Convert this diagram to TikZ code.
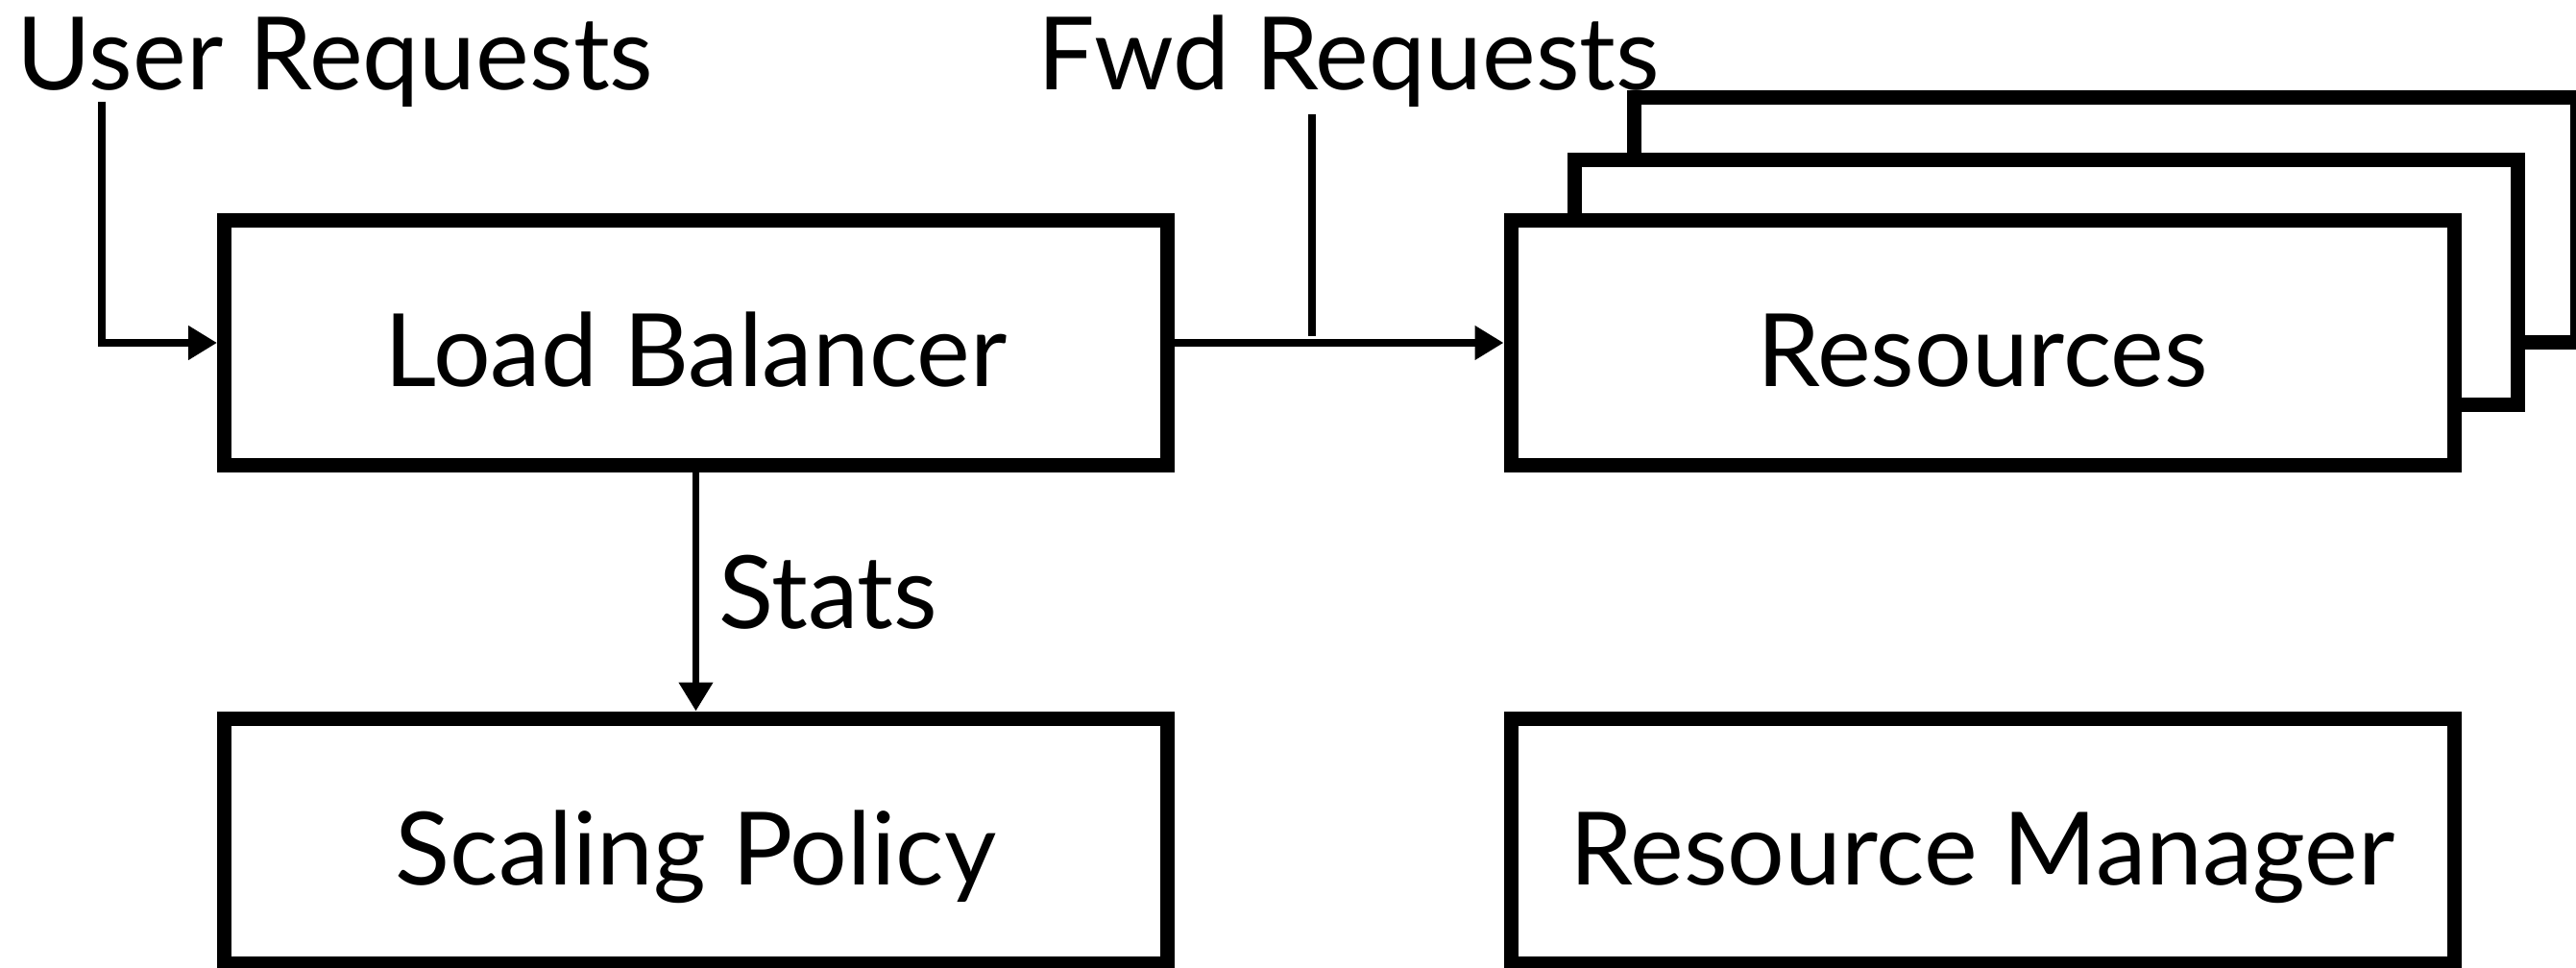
\documentclass[tikz,border=0pt]{standalone}
\usepackage{fontspec}
\setmainfont{Lato}
\usetikzlibrary{arrows.meta,positioning,calc}

\begin{document}
\begin{tikzpicture}[>={Triangle[length=3mm,width=3.4mm]},
block/.style={draw=black,fill=white,line width=1.5mm,minimum width=9.82cm,minimum height=2.55cm,font=\fontsize{30}{36}\selectfont,text height=26pt,text depth=0pt,inner sep=0pt},
flow/.style={->,line width=0.75mm},
leader/.style={line width=0.75mm},
lab/.style={font=\fontsize{30}{36}\selectfont,inner sep=0pt}]
\useasboundingbox (0,0) rectangle (26.82,10.07);
\node[lab,anchor=base west] (usrlab) at (0.17,9.13) {User Requests};
\node[lab,anchor=base west] (fwdlab) at (10.8,9.13) {Fwd Requests};
\node[block] (res3) at (21.92,7.775) {};
\node[block] (res2) at (21.305,7.13) {};
\node[block] (lb) at (7.245,6.5) {Load Balancer};
\node[block] (res) at (20.64,6.5) {Resources};
\node[block] (sp) at (7.245,1.315) {Scaling Policy};
\node[block] (rm) at (20.64,1.315) {Resource Manager};
\coordinate (usrtop) at (1.06,9.01);
\coordinate (fwdtop) at (13.66,8.88);
\coordinate (fwdbot) at (13.66,6.57);
\draw[flow] (usrtop) |- (lb.west);
\draw[flow] (lb.east) -- (res.west);
\draw[leader] (fwdtop) -- (fwdbot);
\draw[flow] (lb.south) -- (sp.north) node[midway,right,lab,inner sep=0.2cm] {Stats};
\end{tikzpicture}
\end{document}
